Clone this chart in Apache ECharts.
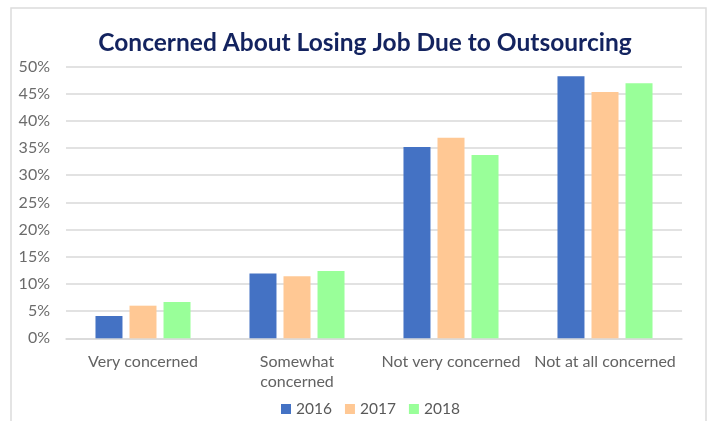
<!DOCTYPE html>
<html>
<head>
<meta charset="utf-8">
<script src="https://cdn.jsdelivr.net/npm/echarts@6/dist/echarts.min.js"></script>
<style>
  html, body { margin: 0; padding: 0; background: #fff; }
  #chart { width: 711px; height: 421px; }
</style>
</head>
<body>
<div id="chart"></div>
<script>
// Survey responses: share of workers concerned about losing their job to outsourcing
const categories = ['Very concerned', 'Somewhat\nconcerned', 'Not very concerned', 'Not at all concerned'];
const years = ['2016', '2017', '2018'];
const values2016 = [4.1, 11.9, 35.2, 48.2];
const values2017 = [6.0, 11.4, 36.9, 45.3];
const values2018 = [6.7, 12.4, 33.7, 46.9];
const yearColors = ['#4472C4', '#FFC894', '#99FF99'];

const seriesValues = [values2016, values2017, values2018];
const labelFont = 'Lato, Carlito, Calibri, "Liberation Sans", sans-serif';

const chart = echarts.init(document.getElementById('chart'), null, { renderer: 'canvas' });

chart.setOption({
  animation: false,
  backgroundColor: '#ffffff',
  title: {
    text: 'Concerned About Losing Job Due to Outsourcing',
    left: 360,
    textAlign: 'center',
    top: 26,
    textStyle: {
      fontFamily: labelFont,
      fontWeight: 'bold',
      fontSize: 24.5,
      color: '#13235f'
    }
  },
  legend: {
    data: years,
    top: 401,
    left: 281,
    padding: 0,
    icon: 'rect',
    itemWidth: 10,
    itemHeight: 10,
    itemGap: 13,
    textStyle: { fontFamily: labelFont, fontSize: 15.5, color: '#595959' }
  },
  grid: { left: 66, right: 29, top: 66.5, bottom: 82.7, containLabel: false },
  xAxis: {
    type: 'category',
    data: categories,
    axisLine: { show: true, lineStyle: { color: '#d9d9d9', width: 1.5 } },
    axisTick: { show: false },
    axisLabel: {
      interval: 0,
      margin: 14,
      fontFamily: labelFont,
      fontSize: 16,
      lineHeight: 20,
      color: '#636363'
    }
  },
  yAxis: {
    type: 'value',
    min: 0,
    max: 50,
    interval: 5,
    axisLine: { show: false },
    axisTick: { show: false },
    splitLine: { lineStyle: { color: '#d9d9d9', width: 1.5 } },
    axisLabel: {
      formatter: '{value}%',
      margin: 16,
      fontFamily: labelFont,
      fontSize: 16,
      color: '#6b6b6b'
    }
  },
  series: years.map((y, i) => ({
    name: y,
    type: 'bar',
    data: seriesValues[i],
    barWidth: 27,
    barGap: '26%',
    itemStyle: { color: yearColors[i] }
  })),
  graphic: [{
    type: 'rect',
    shape: { x: 11, y: 8, width: 695, height: 430 },
    style: { fill: 'none', stroke: '#dcdcdc', lineWidth: 1.5 },
    silent: true
  }]
});
</script>
</body>
</html>
